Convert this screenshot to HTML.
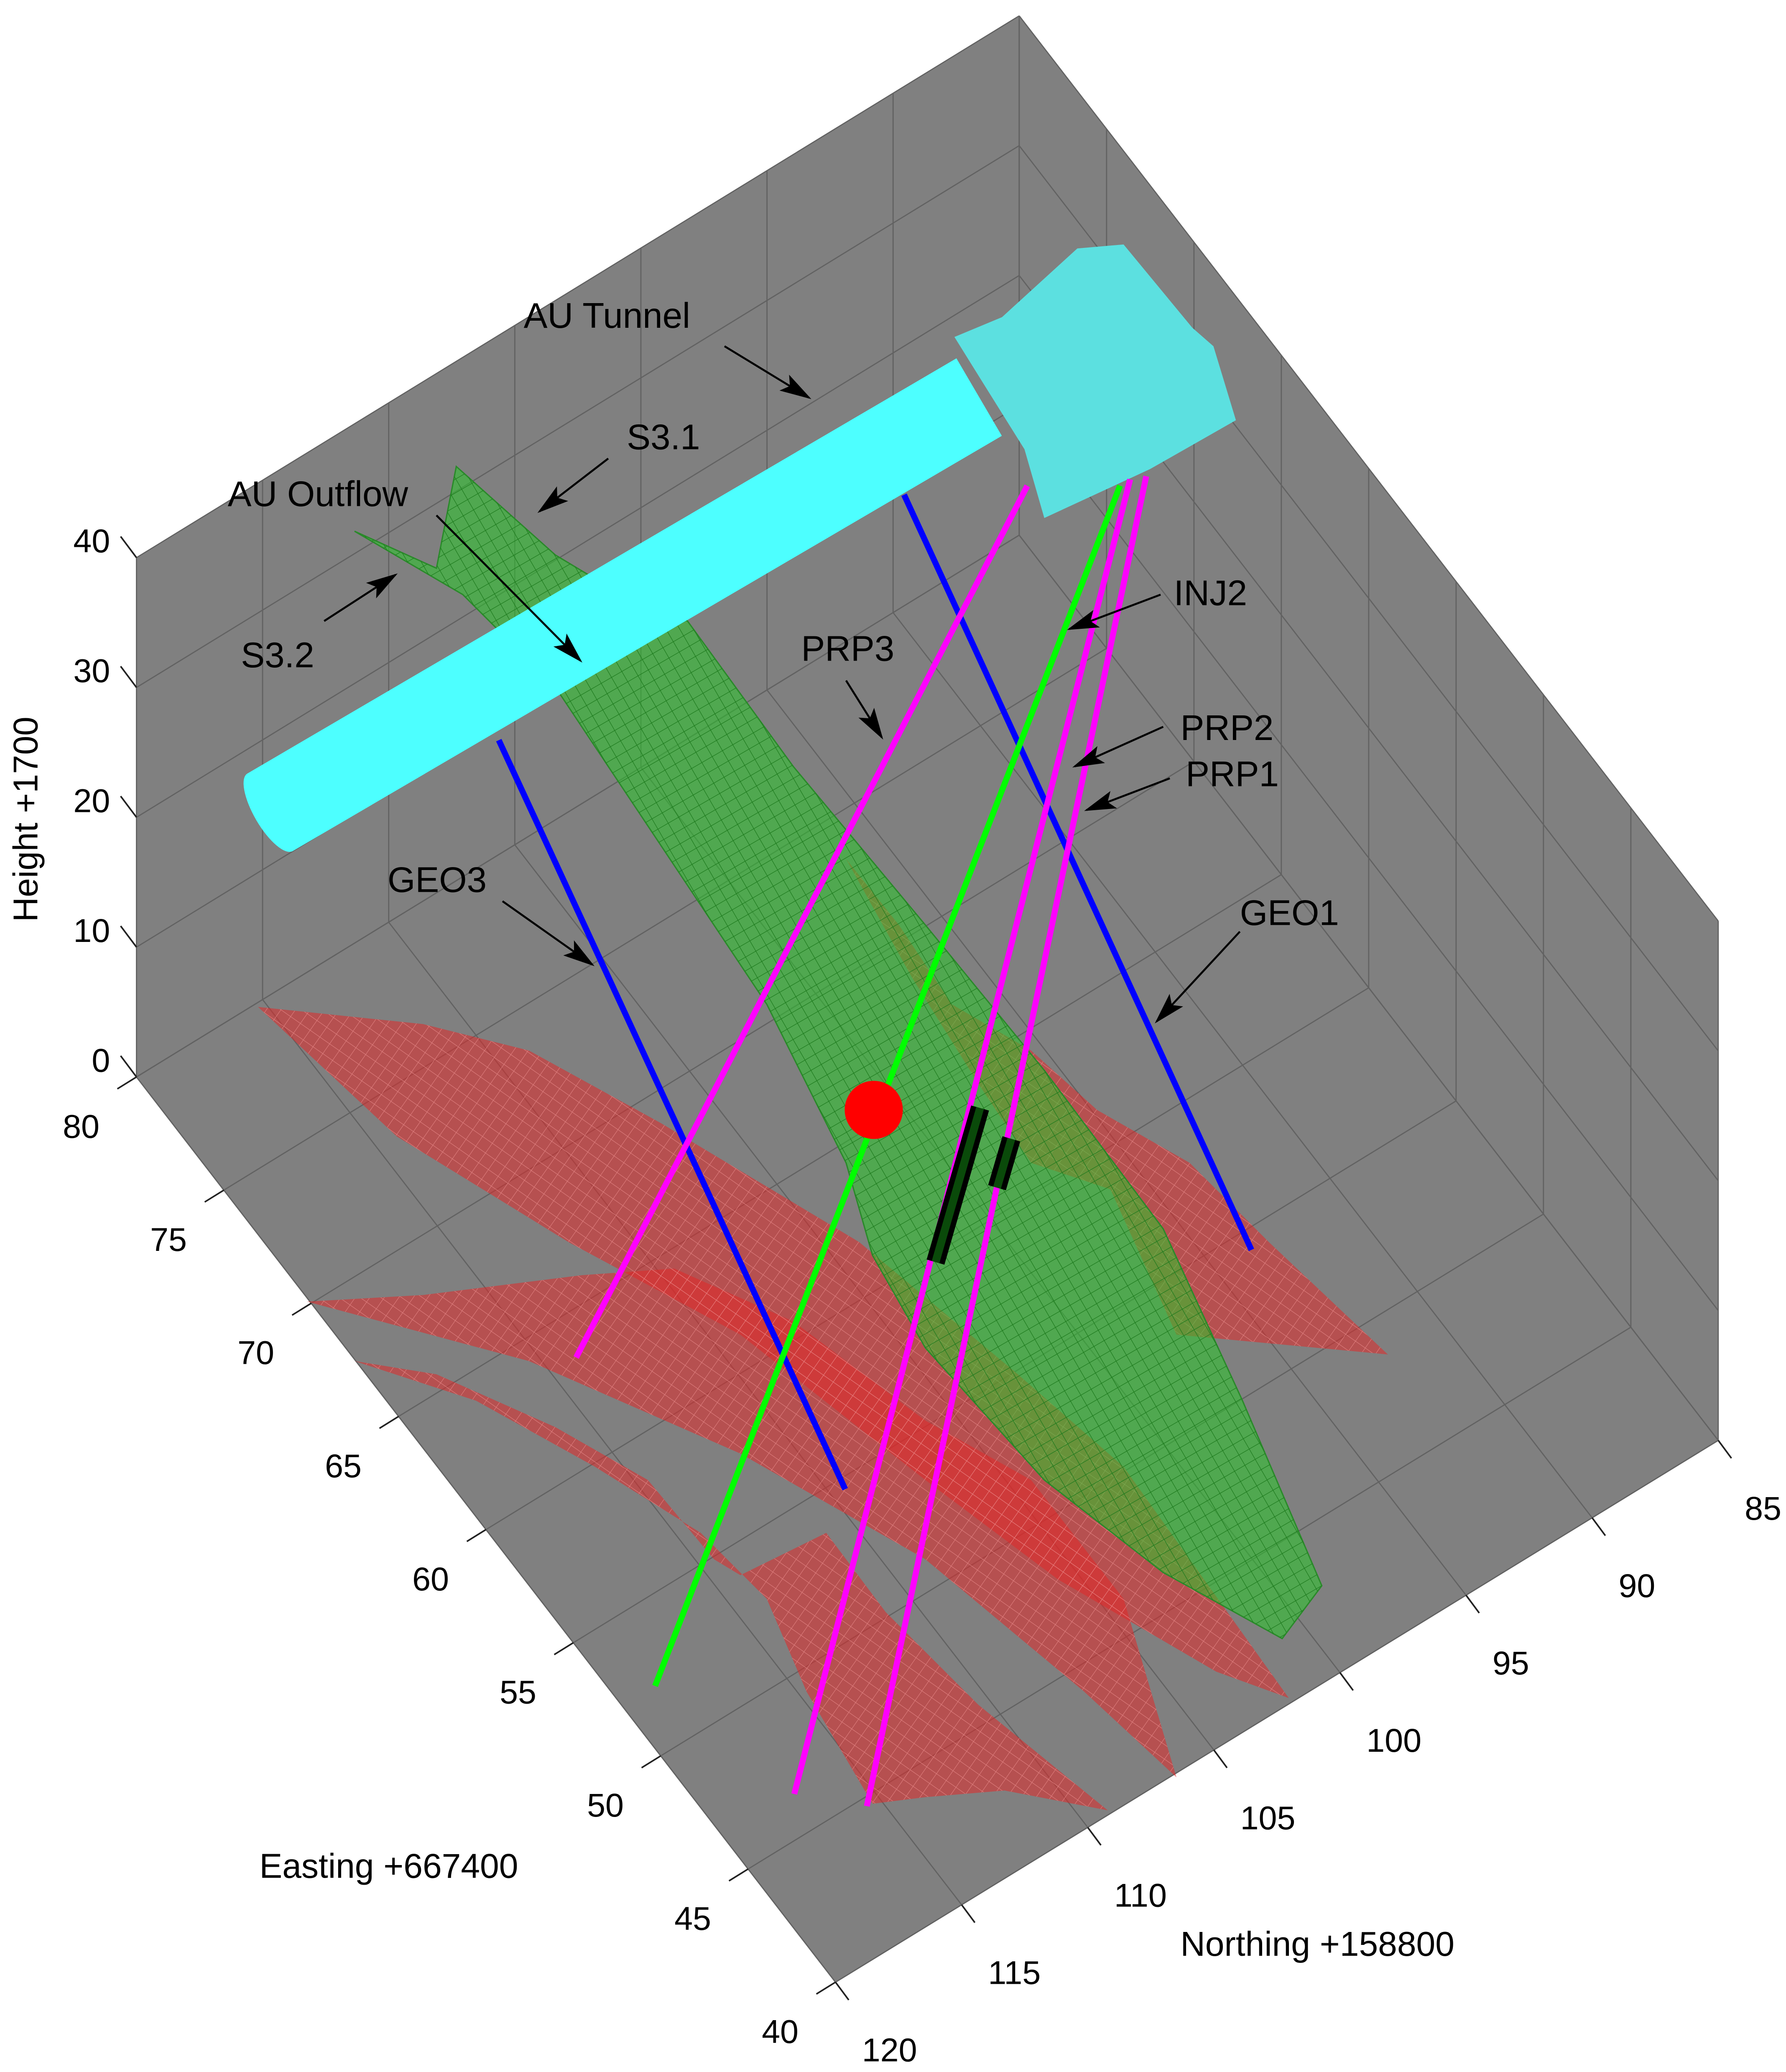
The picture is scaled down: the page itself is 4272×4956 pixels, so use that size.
<!DOCTYPE html>
<html><head><meta charset="utf-8">
<style>html,body{margin:0;padding:0;background:#fff}svg{display:block}text{font-family:"Liberation Sans",sans-serif;fill:#000}</style>
</head><body>
<svg id="chart" width="4272" height="4956" viewBox="0 0 1351 1568" xmlns="http://www.w3.org/2000/svg">
<defs>
<pattern id="gmesh" width="9" height="9" patternUnits="userSpaceOnUse" patternTransform="rotate(-30)">
<path d="M0 0H9M0 0V9" stroke="#1d7a1d" stroke-width="0.8" fill="none"/></pattern>
<pattern id="rmesh" width="9" height="9" patternUnits="userSpaceOnUse" patternTransform="rotate(35)">
<path d="M0 0H9M0 0V9" stroke="#e88a8a" stroke-width="0.7" fill="none"/></pattern>
<marker id="ah" markerWidth="24" markerHeight="16" refX="22" refY="8" orient="auto" markerUnits="userSpaceOnUse" viewBox="0 0 24 16"><path d="M0 1L24 8L0 15L5 8Z" fill="#000"/></marker>
</defs>
<g id="box"></g>
<g id="surfaces"></g>
<g id="marks"></g>
<g id="annot"></g>
</svg>
<script>
// ---- data ----
const eastTicks=[40,45,50,55,60,65,70,75,80];
const northTicks=[85,90,95,100,105,110,115,120];
const heightTicks=[0,10,20,30,40];
const wellNames=['GEO3','GEO1','PRP3','INJ2','PRP2','PRP1'];
const wellTopE=[73.7,73.6,71.6,69.9,69.9,69.7];
const wellTopN=[110.0,94.0,90.5,88.0,87.6,87.1];
const wellTopZ=[25,25,25,25,25,25];
const wellBotE=[54.6,54.3,63.5,52.2,46.4,44.7];
const wellBotN=[109.5,93.6,114.0,118.7,117.2,115.5];
const wellBotZ=[0,0,0,0,0,0];
const wellColors=['#0000ff','#0000ff','#ff00ff','#00ff00','#ff00ff','#ff00ff'];
const packerTopE=[61.6,60.1], packerTopN=[99.3,99.1];
const packerBotE=[57.8,58.9], packerBotN=[103.7,100.5];
const packerZ=[5,5];
const sphereE=[63.5], sphereN=[102.2], sphereZ=[5];
const tunnelE=[73.8,73.2], tunnelN=[119.0,91.3], tunnelZ=[30,30];

// ---- projection ----
function P(E,N,Z){
  const u=(80-E)/40, v=(120-N)/35;
  return [103+529*u+668*v, 815+685*u-410*v-9.825*Z];
}
const NS='http://www.w3.org/2000/svg';
function mk(tag,attrs,parent){const e=document.createElementNS(NS,tag);for(const k in attrs)e.setAttribute(k,attrs[k]);parent.appendChild(e);return e;}
const box=document.getElementById('box'), marks=document.getElementById('marks'), surf=document.getElementById('surfaces'), annot=document.getElementById('annot');
const pts=a=>a.map(p=>p.join(',')).join(' ');

// panes
let el=mk('polygon',{points:pts([P(80,120,0),P(80,120,40),P(80,85,40),P(80,85,0)]),fill:'#808080'},box);


el=mk('polygon',{points:pts([P(80,85,0),P(80,85,40),P(40,85,40),P(40,85,0)]),fill:'#808080'},box);


el=mk('polygon',{points:pts([P(80,120,0),P(80,85,0),P(40,85,0),P(40,120,0)]),fill:'#808080',stroke:'#808080','stroke-width':1},box);


function gl(a,b,name){const l=mk('line',{x1:a[0],y1:a[1],x2:b[0],y2:b[1],stroke:'#626262','stroke-width':0.9},box);

}
northTicks.forEach(n=>{gl(P(80,n,0),P(80,n,40),'grid-north-wall');gl(P(80,n,0),P(40,n,0),'grid-north-floor');});
eastTicks.forEach(e=>{gl(P(e,85,0),P(e,85,40),'grid-east-wall');gl(P(e,85,0),P(e,120,0),'grid-east-floor');});
heightTicks.forEach(z=>{gl(P(80,120,z),P(80,85,z),'grid-height-left');gl(P(80,85,z),P(40,85,z),'grid-height-back');});

// ticks & labels
function tk(a,dx,dy,name){const l=mk('line',{x1:a[0],y1:a[1],x2:a[0]+dx,y2:a[1]+dy,stroke:'#222','stroke-width':1.2},box);

}
function lab(x,y,t,anchor,name){const e=mk('text',{x:x,y:y,'font-size':25,'text-anchor':anchor},box);e.textContent=t;

}
heightTicks.forEach(z=>{const p=P(80,120,z);tk(p,-12,-16,'height-tick');lab(p[0]-20,p[1]-4,String(z),'end','height-tick-label');});
eastTicks.forEach(e=>{const p=P(e,120,0);tk(p,-14.5,9,'easting-tick');lab(p[0]-28,p[1]+46,String(e),'end','easting-tick-label');});
northTicks.forEach(n=>{const p=P(40,n,0);tk(p,10,13.5,'northing-tick');lab(p[0]+20,p[1]+60,String(n),'start','northing-tick-label');});
let t=mk('text',{x:0,y:0,'font-size':26,'text-anchor':'middle',transform:'translate(28,620) rotate(-90)'},box);t.textContent='Height +1700';


t=mk('text',{x:196,y:1421,'font-size':26},box);t.textContent='Easting +667400';


t=mk('text',{x:893,y:1480,'font-size':26},box);t.textContent='Northing +158800';



// surfaces (hand traced outlines)
const redSurf=[
 [[195,762],[320,775],[400,795],[500,850],[650,940],[770,1040],[850,1110],[975,1285],[920,1265],[800,1195],[700,1120],[560,1010],[430,940],[300,860]],
 [[232,985],[320,980],[440,965],[510,960],[600,1000],[700,1075],[780,1120],[850,1210],[890,1345],[820,1280],[700,1180],[560,1100],[400,1030]],
 [[268,1030],[330,1040],[420,1080],[490,1120],[540,1180],[560,1192],[625,1160],[670,1220],[740,1290],[838,1370],[760,1355],[700,1360],[660,1365],[610,1280],[580,1210],[530,1160],[450,1110],[360,1060]],
 [[640,650],[680,700],[720,760],[780,795],[830,840],[900,880],[960,940],[1050,1025],[890,1010],[840,900],[780,880],[740,820],[690,740]]
];
redSurf.forEach((s,i)=>{
 let e=mk('polygon',{points:pts(s),fill:'rgba(225,40,40,0.55)'},surf);
 
 
 e=mk('polygon',{points:pts(s),fill:'url(#rmesh)',opacity:0.8},surf);
 
 
});
const green=[[268,402],[330,430],[345,353],[420,420],[470,450],[520,470],[600,580],[700,700],[790,810],[880,930],[940,1060],[1000,1200],[970,1240],[880,1190],[790,1120],[700,1020],[660,950],[640,880],[580,760],[500,640],[420,520],[350,450]];
let g=mk('polygon',{points:pts(green),fill:'rgba(40,200,40,0.55)',stroke:'#2a8a2a','stroke-width':1},surf);


g=mk('polygon',{points:pts(green),fill:'url(#gmesh)'},surf);



// tunnel
const ta=P(tunnelE[0],tunnelN[0],tunnelZ[0]), tb=P(tunnelE[1],tunnelN[1],tunnelZ[1]);
let tl=mk('line',{x1:ta[0],y1:ta[1],x2:tb[0],y2:tb[1],stroke:'#4dffff','stroke-width':68},marks);


const ang=Math.atan2(tb[1]-ta[1],tb[0]-ta[0])*180/Math.PI;
let cap=mk('ellipse',{cx:ta[0],cy:ta[1],rx:12,ry:34,fill:'#4dffff',transform:`rotate(${ang} ${ta[0]} ${ta[1]})`},marks);


let cav=mk('polygon',{points:'722,255 758,240 815,188 850,185 902,248 918,262 935,318 870,355 790,392 775,340 745,292',fill:'#5ce0e0'},marks);



// wells
wellNames.forEach((nm,i)=>{
 const a=P(wellTopE[i],wellTopN[i],wellTopZ[i]), b=P(wellBotE[i],wellBotN[i],wellBotZ[i]);
 const l=mk('line',{x1:a[0],y1:a[1],x2:b[0],y2:b[1],stroke:wellColors[i],'stroke-width':4.5},marks);
 
 
});
packerZ.forEach((z,i)=>{
 const a=P(packerTopE[i],packerTopN[i],z), b=P(packerBotE[i],packerBotN[i],z);
 const l=mk('line',{x1:a[0],y1:a[1],x2:b[0],y2:b[1],stroke:'#000','stroke-width':14},marks);
 
 
 const l2=mk('line',{x1:a[0],y1:a[1],x2:b[0],y2:b[1],stroke:'#0a4a0a','stroke-width':6},marks);
 
 
});
const sp=P(sphereE[0],sphereN[0],sphereZ[0]);
let s=mk('circle',{cx:sp[0],cy:sp[1],r:22,fill:'#ff0000'},marks);



// annotations
const annText=['AU Tunnel','S3.1','AU Outflow','S3.2','PRP3','INJ2','PRP2','PRP1','GEO3','GEO1'];
const annTX=[396,474,172,182,606,888,893,897,293,938];
const annTY=[248,340,383,505,500,458,560,595,675,700];
const arrFrom=[[548,262],[460,347],[330,390],[245,470],[640,515],[878,450],[880,550],[885,589],[380,682],[938,705]];
const arrTo=[[612,301],[408,387],[439,500],[299,435],[667,558],[809,476],[813,580],[822,613],[448,730],[875,773]];
annText.forEach((tx,i)=>{
 const e=mk('text',{x:annTX[i],y:annTY[i],'font-size':27},annot);e.textContent=tx;
 
 
 const l=mk('line',{x1:arrFrom[i][0],y1:arrFrom[i][1],x2:arrTo[i][0],y2:arrTo[i][1],stroke:'#000','stroke-width':1.5,'marker-end':'url(#ah)'},annot);
 
 
});
</script>
</body></html>
